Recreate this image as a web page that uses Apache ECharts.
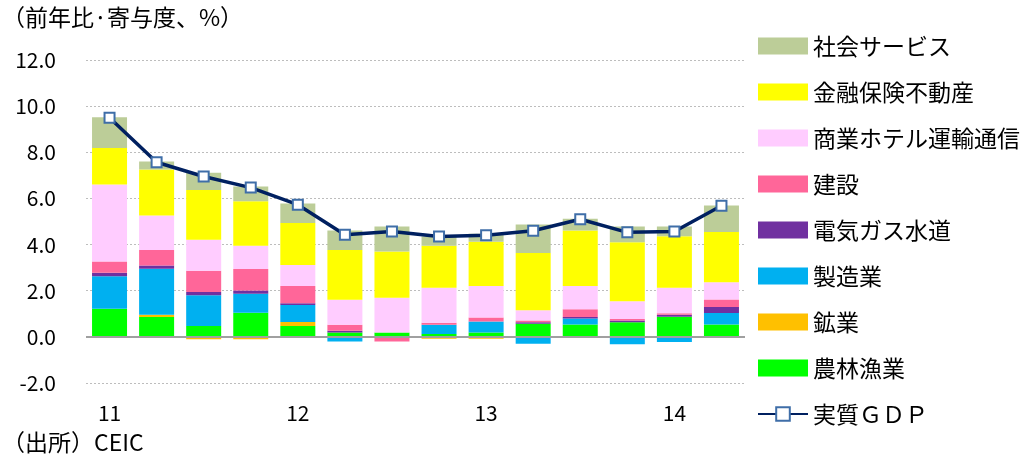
<!DOCTYPE html>
<html>
<head>
<meta charset="utf-8">
<script src="https://cdn.jsdelivr.net/npm/echarts@6/dist/echarts.min.js"></script>
<style>
  html, body { margin: 0; padding: 0; background: #fff; }
  #chart { width: 1035px; height: 463px; }
</style>
</head>
<body>
<div id="chart"></div>
<script>
// 四半期（ラベルは各年の第1四半期のみ）
const xLabels = ['11', '', '', '', '12', '', '', '', '13', '', '', '', '14', ''];

// 寄与度（%ポイント）
const agri     = [1.22, 0.86, 0.47, 1.05, 0.47, 0.19, 0.19, 0.12, 0.19, 0.57, 0.54, 0.63, 0.87, 0.54];
const mining   = [0, 0.10, -0.10, -0.10, 0.17, 0, 0, -0.08, -0.08, -0.05, -0.05, 0, 0, 0];
const manuf    = [1.41, 1.99, 1.33, 0.82, 0.74, -0.20, 0, 0.40, 0.48, -0.25, 0.26, -0.32, -0.22, 0.49];
const util     = [0.15, 0.14, 0.14, 0.14, 0.08, 0.07, 0, 0, 0, 0.06, 0.06, 0.08, 0.09, 0.26];
const constr   = [0.49, 0.68, 0.93, 0.93, 0.74, 0.27, -0.20, 0.09, 0.17, 0.08, 0.34, 0.06, 0.06, 0.33];
const commerce = [3.33, 1.49, 1.34, 1.01, 0.91, 1.08, 1.51, 1.52, 1.36, 0.44, 1.00, 0.77, 1.11, 0.75];
const finance  = [1.59, 1.99, 2.16, 1.93, 1.83, 2.16, 2.00, 1.82, 1.92, 2.48, 2.41, 2.56, 2.23, 2.17];
const social   = [1.33, 0.35, 0.74, 0.64, 0.84, 0.84, 1.08, 0.40, 0.35, 1.24, 0.51, 0.68, 0.42, 1.15];
// 実質GDP成長率
const gdp      = [9.5, 7.57, 6.95, 6.47, 5.73, 4.43, 4.57, 4.35, 4.4, 4.6, 5.1, 4.53, 4.57, 5.68];

const FONT = '"Noto Sans CJK JP", "Noto Sans", sans-serif';

const barDefs = [
  { name: '農林漁業', data: agri, color: '#00ff00' },
  { name: '鉱業', data: mining, color: '#ffc000' },
  { name: '製造業', data: manuf, color: '#00b0f0' },
  { name: '電気ガス水道', data: util, color: '#7030a0' },
  { name: '建設', data: constr, color: '#ff6699' },
  { name: '商業ホテル運輸通信', data: commerce, color: '#ffccff' },
  { name: '金融保険不動産', data: finance, color: '#ffff00' },
  { name: '社会サービス', data: social, color: '#bccd98' },
];

const chart = echarts.init(document.getElementById('chart'));

const series = barDefs.map((d, i) => {
  const s = {
    name: d.name,
    type: 'bar',
    stack: 'total',
    barWidth: 35,
    itemStyle: { color: d.color },
    data: d.data,
  };
  // ゼロ線
  if (i === 0) {
    s.markLine = {
      silent: true,
      symbol: 'none',
      label: { show: false },
      lineStyle: { color: '#a0a0a0', width: 2, type: 'solid' },
      data: [{ yAxis: 0 }],
    };
  }
  return s;
});

series.push({
  name: '実質ＧＤＰ',
  type: 'line',
  data: gdp,
  symbol: 'rect',
  symbolSize: 10,
  z: 10,
  lineStyle: { color: '#002060', width: 3.5 },
  itemStyle: { color: '#ffffff', borderColor: '#3f6ea8', borderWidth: 2 },
});

// 凡例は積み上げの逆順
const legendData = barDefs.slice().reverse().map(d => ({ name: d.name, icon: 'rect' }));
legendData.push({ name: '実質ＧＤＰ' });

const option = {
  animation: false,
  textStyle: { fontFamily: FONT },
  grid: { left: 86, right: 290, top: 60, bottom: 80 },
  legend: {
    orient: 'vertical',
    left: 757,
    top: 34,
    padding: 0,
    height: 430,
    itemWidth: 50,
    itemHeight: 17,
    itemGap: 22,
    data: legendData,
    textStyle: { fontSize: 23, lineHeight: 24, color: '#000', fontFamily: FONT },
  },
  xAxis: {
    type: 'category',
    data: xLabels,
    axisLine: { show: false },
    axisTick: { show: false },
    axisLabel: { interval: 0, fontSize: 21, color: '#000', margin: 20, fontFamily: FONT },
  },
  yAxis: {
    type: 'value',
    min: -2,
    max: 12,
    interval: 2,
    axisLine: { show: false },
    axisTick: { show: false },
    axisLabel: {
      fontSize: 21,
      color: '#000',
      margin: 30,
      fontFamily: FONT,
      formatter: v => v.toFixed(1),
    },
    splitLine: { lineStyle: { color: '#bdbdbd', width: 1, type: [2, 2] } },
  },
  graphic: [
    { type: 'text', left: 2, top: 6, style: { text: '（前年比·寄与度、%）', font: '23px ' + FONT, fill: '#000' } },
    { type: 'text', left: 2, top: 431, style: { text: '（出所）CEIC', font: '23px ' + FONT, fill: '#000' } },
  ],
  series: series,
};

chart.setOption(option);
</script>
</body>
</html>
